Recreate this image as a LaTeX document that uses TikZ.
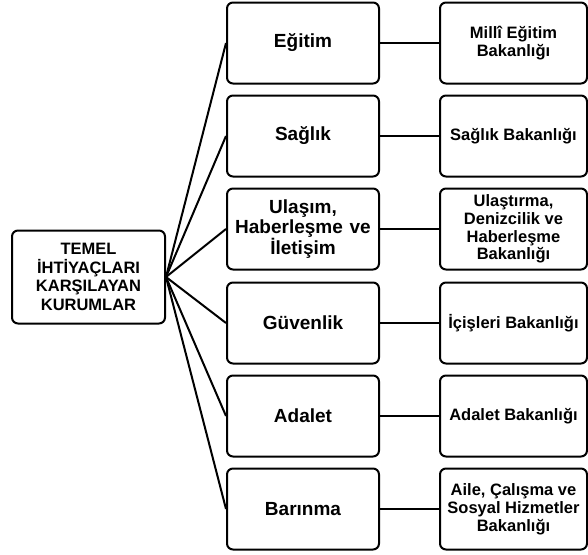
\documentclass[tikz,border=0pt]{standalone}
\usepackage{fontspec}
\setmainfont{Liberation Sans}
\begin{document}
\begin{tikzpicture}[x=1pt,y=-1pt,
  box/.style={draw=black,line width=2pt,rounded corners=6pt,fill=white,align=center,inner sep=0pt,font=\bfseries},
  leftbox/.style={box,minimum width=153pt,minimum height=93pt,font=\bfseries\fontsize{16.5}{18.5}\selectfont},
  midbox/.style={box,minimum width=152pt,minimum height=81pt,font=\bfseries\fontsize{19}{19.5}\selectfont},
  rightbox/.style={box,minimum width=147pt,minimum height=81pt,font=\bfseries\fontsize{16.5}{17.8}\selectfont},
  conn/.style={line width=2pt}]
\useasboundingbox (0,0) rectangle (588,554);
\node[leftbox] (root) at (88.5,277) {TEMEL\\İHTİYAÇLARI\\KARŞILAYAN\\KURUMLAR};

\node[midbox] (m1) at (303,43) {Eğitim};
\node[midbox] (m2) at (303,136) {Sağlık};
\node[midbox] (m3) at (303,229) {Ulaşım,\\Haberleşme\hspace{1.5pt} ve\\İletişim};
\node[midbox] (m4) at (303,323) {Güvenlik};
\node[midbox] (m5) at (303,416) {Adalet};
\node[midbox] (m6) at (303,509) {Barınma};

\node[rightbox] (r1) at (513.5,43) {Millî Eğitim\\Bakanlığı};
\node[rightbox] (r2) at (513.5,136) {Sağlık Bakanlığı};
\node[rightbox] (r3) at (513.5,229) {Ulaştırma,\\Denizcilik ve\\Haberleşme\\Bakanlığı};
\node[rightbox] (r4) at (513.5,323) {İçişleri Bakanlığı};
\node[rightbox] (r5) at (513.5,416) {Adalet Bakanlığı};
\node[rightbox] (r6) at (513.5,509) {Aile, Çalışma ve\\Sosyal Hizmetler\\Bakanlığı};

\foreach \i in {1,...,6}{
  \draw[conn] (root.east) -- (m\i.west);
  \draw[conn] (m\i.east) -- (r\i.west);
}
\end{tikzpicture}
\end{document}
